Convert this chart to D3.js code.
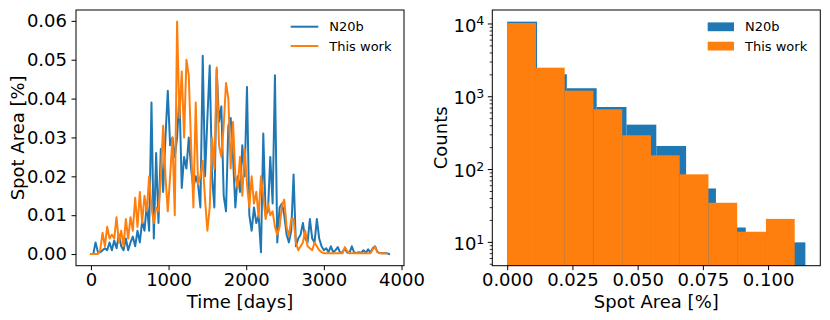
<!DOCTYPE html>
<html><head><meta charset="utf-8">
<script src="https://cdn.jsdelivr.net/npm/d3@7/dist/d3.min.js"></script>
<style>
body{margin:0;background:#fff}
svg{display:block}
text{font-family:"DejaVu Sans",sans-serif;fill:#000}
</style>
</head><body>
<svg id="chart" width="830" height="320"></svg>
<script>
// ---------------- data ----------------
const timeStep = 30; // days between samples
const n20bSeries = [
0,0,0.003,0.0005,0.0005,0.001,0.0015,0.001,0.003,0.001,
0.0035,0.0015,0.005,0.002,0.001,0.004,0.001,0.003,0.0045,0.002,
0.006,0.003,0.0085,0.006,0.013,0.006,0.039,0.004,0.026,0.008,
0.027,0.016,0.03,0.042,0.028,0.03,0.025,0.03,0.041,0.017,
0.025,0.022,0.03,0.022,0.017,0.02,0.018,0.012,0.051,0.02,
0.035,0.0485,0.02,0.012,0.0475,0.034,0.038,0.015,0.011,0.033,
0.035,0.025,0.012,0.02,0.016,0.028,0.02,0.043,0.01,0.006,
0.012,0.008,0.01,0.0005,0.031,0.01,0.011,0.025,0.013,0.046,
0.003,0.012,0.013,0.01,0.005,0.003,0.006,0.0205,0.002,0.004,
0.005,0.008,0.004,0.003,0.009,0.004,0.003,0.009,0.004,0.002,
0.001,0.0015,0.0005,0.002,0.0005,0.001,0.0018,0.0003,0.0005,0.0015,
0.0004,0.0003,0.002,0.0004,0.0003,0.0005,0.0003,0.001,0.0003,0.0012,
0.0004,0.0015,0.002,0.0005,0.0003,0.0002,0.0003,0.0002,0
];
const thisWorkSeries = [
0,0,0,0,0.001,0.0055,0.002,0.007,0.004,0.005,
0.004,0.0095,0.003,0.006,0.002,0.009,0.004,0.0095,0.006,0.0145,
0.007,0.016,0.008,0.015,0.011,0.02,0.012,0.008,0.012,0.011,
0.02,0.033,0.02,0.011,0.02,0.03,0.01,0.0598,0.035,0.047,
0.03,0.05,0.046,0.028,0.012,0.039,0.018,0.02,0.024,0.014,
0.006,0.012,0.03,0.022,0.048,0.028,0.025,0.033,0.044,0.04,
0.022,0.034,0.02,0.017,0.025,0.015,0.027,0.018,0.012,0.02,
0.013,0.016,0.0095,0.02,0.015,0.009,0.013,0.01,0.011,0.007,
0.005,0.007,0.0125,0.014,0.007,0.0045,0.009,0.009,0.003,0.001,
0.002,0.003,0.006,0.002,0.0015,0.001,0.003,0.002,0.001,0.0005,
0.0002,0.0002,0.0002,0.0002,0.0002,0.0002,0.0002,0.0002,0.0002,0.0018,
0.0008,0.0002,0.0002,0.0002,0.0002,0.0002,0.0002,0.0002,0.0002,0.0002,
0.0002,0.0012,0.0018,0.0005,0.0002,0.0002,0.0002,0.0002
];
const timeTicks = [0, 1000, 2000, 3000, 4000];
const areaTicks = [0, 0.01, 0.02, 0.03, 0.04, 0.05, 0.06];

const n20bEdges = [0,0.01143,0.02286,0.03429,0.04572,0.05715,0.06858,0.08001,0.09144,0.10287,0.1143];
const n20bCounts = [10760,2040,1310,724,414,211,55,16,12,10];
const thisWorkEdges = [0,0.01102,0.02204,0.03306,0.04408,0.0551,0.06612,0.07714,0.08816,0.09918,0.1102];
const thisWorkCounts = [10300,2510,1213,673,296,157,86,35,14,21];
const histXTicks = [0, 0.025, 0.05, 0.075, 0.1];
const countTicks = [10, 100, 1000, 10000];

const seriesNames = ["N20b", "This work"];
const seriesColors = ["#1f77b4", "#ff7f0e"];

// ---------------- layout ----------------
const svg = d3.select("#chart");
const FS = 18, LFS = 13, TICK = 4.5, MINOR = 2.6, PAD = 4.5, XPAD = 3;
const left = {x0: 76, x1: 404, y0: 10, y1: 265.7};
const right = {x0: 492.3, x1: 820.3, y0: 10, y1: 265.7};
const XLABEL_Y = 307.5;

function padDomain(lo, hi){ const p = 0.05*(hi-lo); return [lo-p, hi+p]; }

// ---------------- left: time series ----------------
const days = n20bSeries.map((_, i) => i * timeStep);
const daysTW = thisWorkSeries.map((_, i) => i * timeStep);
const xL = d3.scaleLinear().domain(padDomain(0, d3.max(days))).range([left.x0, left.x1]);
const allVals = n20bSeries.concat(thisWorkSeries);
const yL = d3.scaleLinear().domain(padDomain(d3.min(allVals), d3.max(allVals))).range([left.y1, left.y0]);

svg.append("clipPath").attr("id","clipL").append("rect")
  .attr("x",left.x0).attr("y",left.y0).attr("width",left.x1-left.x0).attr("height",left.y1-left.y0);
const gL = svg.append("g").attr("clip-path","url(#clipL)");
const line = (xs) => d3.line().x((d,i)=>xL(xs[i])).y(d=>yL(d));
[[n20bSeries, days],[thisWorkSeries, daysTW]].forEach(([s, xs], k) => {
  gL.append("path").datum(s).attr("d", line(xs))
    .attr("fill","none").attr("stroke",seriesColors[k]).attr("stroke-width",2)
    .attr("stroke-linejoin","round").attr("stroke-linecap","square");
});

function styleAxis(g){
  g.select(".domain").remove();
  g.selectAll(".tick line").attr("stroke","#000").attr("stroke-width",1);
  g.selectAll(".tick text").style("font-size",FS+"px").style("font-family","DejaVu Sans").attr("fill","#000");
}
const axLX = svg.append("g").attr("transform",`translate(0,${left.y1})`)
  .call(d3.axisBottom(xL).tickValues(timeTicks).tickSize(TICK).tickPadding(XPAD).tickFormat(d3.format("d")));
styleAxis(axLX);
const axLY = svg.append("g").attr("transform",`translate(${left.x0},0)`)
  .call(d3.axisLeft(yL).tickValues(areaTicks).tickSize(TICK).tickPadding(PAD).tickFormat(d3.format(".2f")));
styleAxis(axLY);
svg.append("rect").attr("x",left.x0).attr("y",left.y0).attr("width",left.x1-left.x0).attr("height",left.y1-left.y0)
  .attr("fill","none").attr("stroke","#000").attr("stroke-width",1);

svg.append("text").attr("x",(left.x0+left.x1)/2).attr("y",XLABEL_Y).attr("text-anchor","middle")
  .style("font-size",FS+"px").text("Time [days]");
svg.append("text").attr("transform",`translate(23.5,${(left.y0+left.y1)/2}) rotate(-90)`).attr("text-anchor","middle")
  .style("font-size",FS+"px").text("Spot Area [%]");

// legend left
seriesNames.forEach((name,k)=>{
  const y = 26.7 + k*19.3;
  svg.append("line").attr("x1",290.7).attr("x2",318.3).attr("y1",y).attr("y2",y)
    .attr("stroke",seriesColors[k]).attr("stroke-width",2);
  svg.append("text").attr("x",329.3).attr("y",y).attr("dy","0.36em").style("font-size",LFS+"px").text(name);
});

// ---------------- right: histogram ----------------
const xR = d3.scaleLinear().domain(padDomain(0, d3.max(n20bEdges.concat(thisWorkEdges)))).range([right.x0, right.x1]);
const yR = d3.scaleLog().domain([4.78, 15560]).range([right.y1, right.y0]);
svg.append("clipPath").attr("id","clipR").append("rect")
  .attr("x",right.x0).attr("y",right.y0).attr("width",right.x1-right.x0).attr("height",right.y1-right.y0);
const gR = svg.append("g").attr("clip-path","url(#clipR)");
[[n20bEdges,n20bCounts],[thisWorkEdges,thisWorkCounts]].forEach(([edges,counts],k)=>{
  gR.selectAll(null).data(counts).enter().append("rect")
    .attr("x",(d,i)=>xR(edges[i]))
    .attr("width",(d,i)=>xR(edges[i+1])-xR(edges[i]))
    .attr("y",d=>yR(d))
    .attr("height",d=>right.y1+2-yR(d))
    .attr("fill",seriesColors[k]);
});
const axRX = svg.append("g").attr("transform",`translate(0,${right.y1})`)
  .call(d3.axisBottom(xR).tickValues(histXTicks).tickSize(TICK).tickPadding(XPAD).tickFormat(d3.format(".3f")));
styleAxis(axRX);
// log y axis: major ticks with 10^k labels, minor ticks
const axRY = svg.append("g");
const [dlo, dhi] = yR.domain();
for (let e = 0; e <= 4; e++){
  for (let m = 2; m <= 9; m++){
    const v = m*Math.pow(10,e);
    if (v>=dlo && v<=dhi){
      axRY.append("line").attr("x1",right.x0-MINOR).attr("x2",right.x0).attr("y1",yR(v)).attr("y2",yR(v))
        .attr("stroke","#000").attr("stroke-width",0.8);
    }
  }
}
countTicks.forEach(v=>{
  const y = yR(v);
  axRY.append("line").attr("x1",right.x0-TICK).attr("x2",right.x0).attr("y1",y).attr("y2",y)
    .attr("stroke","#000").attr("stroke-width",1);
  const t = axRY.append("text").attr("x",right.x0-TICK-PAD+1).attr("y",y).attr("dy","0.42em")
    .attr("text-anchor","end").style("font-size",FS+"px");
  t.append("tspan").text("10");
  t.append("tspan").attr("dy","-0.5em").style("font-size","12.5px").text(String(Math.round(Math.log10(v))));
});
svg.append("rect").attr("x",right.x0).attr("y",right.y0).attr("width",right.x1-right.x0).attr("height",right.y1-right.y0)
  .attr("fill","none").attr("stroke","#000").attr("stroke-width",1);

svg.append("text").attr("x",(right.x0+right.x1)/2).attr("y",XLABEL_Y).attr("text-anchor","middle")
  .style("font-size",FS+"px").text("Spot Area [%]");
svg.append("text").attr("transform",`translate(446.5,${(right.y0+right.y1)/2}) rotate(-90)`).attr("text-anchor","middle")
  .style("font-size",FS+"px").text("Counts");

// legend right
seriesNames.forEach((name,k)=>{
  const y = 26.8 + k*19.3;
  svg.append("rect").attr("x",707.7).attr("y",y-4.4).attr("width",26.3).attr("height",8.8).attr("fill",seriesColors[k]);
  svg.append("text").attr("x",745).attr("y",y).attr("dy","0.36em").style("font-size",LFS+"px").text(name);
});
</script>
</body></html>
